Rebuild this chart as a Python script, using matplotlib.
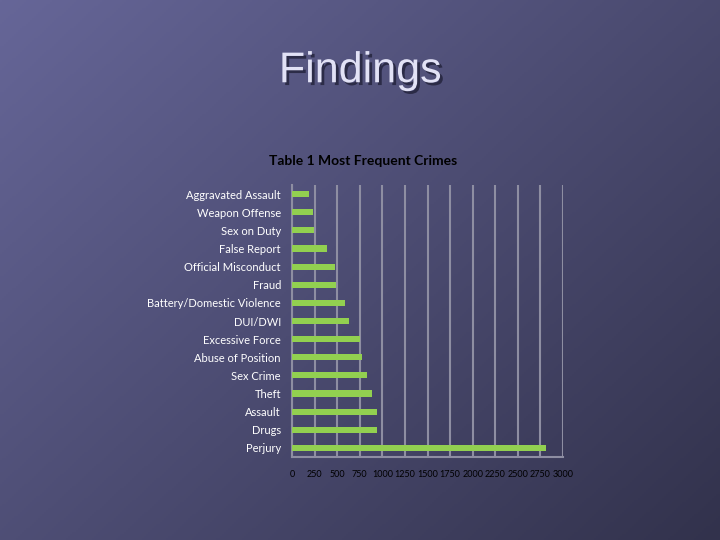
import numpy as np
import matplotlib.pyplot as plt
import matplotlib.patheffects as pe

# data (top to bottom as shown)
crimes = ['Aggravated Assault', 'Weapon Offense', 'Sex on Duty', 'False Report',
          'Official Misconduct', 'Fraud', 'Battery/Domestic Violence', 'DUI/DWI',
          'Excessive Force', 'Abuse of Position', 'Sex Crime', 'Theft',
          'Assault', 'Drugs', 'Perjury']
counts = [185, 230, 240, 385, 475, 490, 585, 630, 750, 775, 830, 885, 940, 940, 2815]
xticks = list(range(0, 3001, 250))

fig = plt.figure(figsize=(7.2, 5.4), dpi=100)

# slide background gradient
bg = fig.add_axes([0, 0, 1, 1])
yy, xx = np.mgrid[0:1:270j, 0:1:360j]
t = (xx * 0.55 + yy * 0.45)
c0 = np.array([102, 102, 152]) / 255
c1 = np.array([50, 50, 76]) / 255
img = c0[None, None, :] * (1 - t[..., None]) + c1[None, None, :] * t[..., None]
bg.imshow(img, aspect='auto', extent=[0, 1, 0, 1], origin='upper')
bg.axis('off')

# slide title with shadow
fig.text(0.5, 0.868, 'Findings', ha='center', va='center',
         fontsize=31, family='Liberation Sans', color='#e2e2f6',
         path_effects=[pe.SimplePatchShadow(offset=(2, -2), shadow_rgbFace='#22223a', alpha=0.8),
                       pe.Normal()])

ax = fig.add_axes([0.4056, 0.1537, 0.3764, 0.5037])
ax.patch.set_alpha(0)
y = np.arange(len(crimes))
ax.barh(y, counts, height=0.34, color='#92d050', zorder=3)
ax.set_ylim(len(crimes) - 0.5, -0.5)
ax.set_xlim(0, 3000)
ax.set_yticks(y)
ax.set_yticklabels(crimes, family='Lato', fontsize=8, color='white')
ax.set_xticks(xticks)
ax.set_xticklabels([str(v) for v in xticks], family='Lato', fontsize=6.5, color='black')
ax.tick_params(length=0)
ax.tick_params(axis='x', pad=9)
ax.tick_params(axis='y', pad=8)
ax.grid(axis='x', color='#8e8ea2', linewidth=1.5, zorder=1)
for s in ['top', 'right']:
    ax.spines[s].set_visible(False)
for s in ['left', 'bottom']:
    ax.spines[s].set_color('#8e8ea2')
    ax.spines[s].set_linewidth(1.5)

fig.text(0.505, 0.702, 'Table 1 Most Frequent Crimes', ha='center', va='center',
         fontsize=10, family='Lato', fontweight='bold', color='black')

fig.savefig('out.png', dpi=100)
